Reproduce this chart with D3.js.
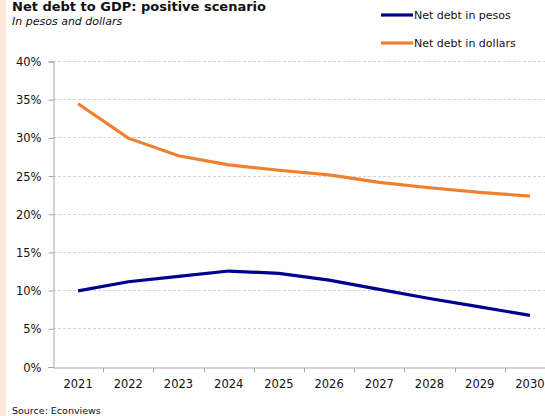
<!DOCTYPE html>
<html>
<head>
    <title>Net debt to GDP</title>
    <style>
        body { margin: 0; background: #fff; }
        svg text { font-family: Tahoma, "DejaVu Sans", Verdana, sans-serif; fill: #111; }
    </style>
</head>
<body>
<script src="https://d3js.org/d3.v7.min.js"></script>
<script>

    var width = 545,
        height = 416;

    // data (% of GDP)
    var years = ['2021', '2022', '2023', '2024', '2025', '2026', '2027', '2028', '2029', '2030'];
    var pesos = [9.9, 11.1, 11.8, 12.5, 12.2, 11.3, 10.1, 8.9, 7.8, 6.7];
    var dollars = [34.4, 29.9, 27.6, 26.4, 25.7, 25.1, 24.1, 23.4, 22.8, 22.3];
    var yTicks = [0, 5, 10, 15, 20, 25, 30, 35, 40];

    var series = [
        { name: 'Net debt in pesos', values: pesos, color: '#000090' },
        { name: 'Net debt in dollars', values: dollars, color: '#F0802F' }
    ];

    var margin = { left: 53, top: 61, bottom: 49.5 };

    var svg = d3.select('body').append('svg')
        .attr('width', width)
        .attr('height', height);

    // peach strip on the left edge
    svg.append('rect')
        .attr('x', 0).attr('y', 0)
        .attr('width', 6).attr('height', height)
        .attr('fill', '#FCE6D8');

    var x = d3.scaleBand()
        .domain(years)
        .range([margin.left, 555])
        .padding(0);

    var y = d3.scaleLinear()
        .domain([0, 40])
        .range([height - margin.bottom, margin.top]);

    // dashed gridlines
    svg.append('g')
        .selectAll('line')
        .data(yTicks.filter(function (d) { return d > 0; }))
        .enter().append('line')
        .attr('x1', margin.left)
        .attr('x2', width)
        .attr('y1', function (d) { return Math.round(y(d)) + 0.5; })
        .attr('y2', function (d) { return Math.round(y(d)) + 0.5; })
        .attr('stroke', '#d4d4d4')
        .attr('stroke-dasharray', '3,2');

    // y axis
    var yAxis = svg.append('g')
        .attr('transform', 'translate(' + (margin.left + 0.5) + ',0.5)')
        .call(d3.axisLeft(y).tickValues(yTicks).tickSize(5).tickPadding(7)
            .tickFormat(function (d) { return d + '%'; }));

    // x axis
    var xAxis = svg.append('g')
        .attr('transform', 'translate(0,' + (Math.round(y(0)) + 0.5) + ')')
        .call(d3.axisBottom(x).tickSize(0).tickPadding(12));

    // category boundary ticks
    xAxis.selectAll('.bound')
        .data(years.slice(1))
        .enter().append('line')
        .attr('class', 'bound')
        .attr('x1', function (d) { return Math.round(x(d)) + 0.5; })
        .attr('x2', function (d) { return Math.round(x(d)) + 0.5; })
        .attr('y1', 0).attr('y2', 5)
        .attr('stroke', '#a6a6a6');

    [yAxis, xAxis].forEach(function (g) {
        g.selectAll('.domain').attr('stroke', '#a6a6a6');
        g.selectAll('.tick line').attr('stroke', '#a6a6a6');
        g.selectAll('text')
            .attr('font-size', '11.5px')
            .style('font-family', 'Tahoma, "DejaVu Sans", Verdana, sans-serif')
            .attr('fill', '#111');
    });
    yAxis.selectAll('.tick text').attr('dy', '0.35em');

    // lines
    var line = d3.line()
        .x(function (d, i) { return x(years[i]) + x.bandwidth() / 2; })
        .y(function (d) { return y(d); });

    svg.selectAll('.series')
        .data(series)
        .enter().append('path')
        .attr('class', 'series')
        .attr('d', function (d) { return line(d.values); })
        .attr('fill', 'none')
        .attr('stroke', function (d) { return d.color; })
        .attr('stroke-width', 3.2);

    // legend
    var legend = svg.selectAll('.legend')
        .data(series)
        .enter().append('g')
        .attr('class', 'legend')
        .attr('transform', function (d, i) { return 'translate(381,' + (15 + i * 28) + ')'; });

    legend.append('line')
        .attr('x1', 0).attr('x2', 32)
        .attr('stroke', function (d) { return d.color; })
        .attr('stroke-width', 3.2);

    legend.append('text')
        .attr('x', 33)
        .attr('y', 4)
        .attr('font-size', '11px')
        .text(function (d) { return d.name; });

    // titles
    svg.append('text')
        .attr('x', 12).attr('y', 11)
        .attr('font-size', '13px')
        .attr('font-weight', 'bold')
        .text('Net debt to GDP: positive scenario');

    svg.append('text')
        .attr('x', 12).attr('y', 25)
        .attr('font-size', '11px')
        .attr('font-style', 'italic')
        .text('In pesos and dollars');

    svg.append('text')
        .attr('x', 12).attr('y', 414)
        .attr('font-size', '9.5px')
        .text('Source: Econviews');

</script>
</body>
</html>
